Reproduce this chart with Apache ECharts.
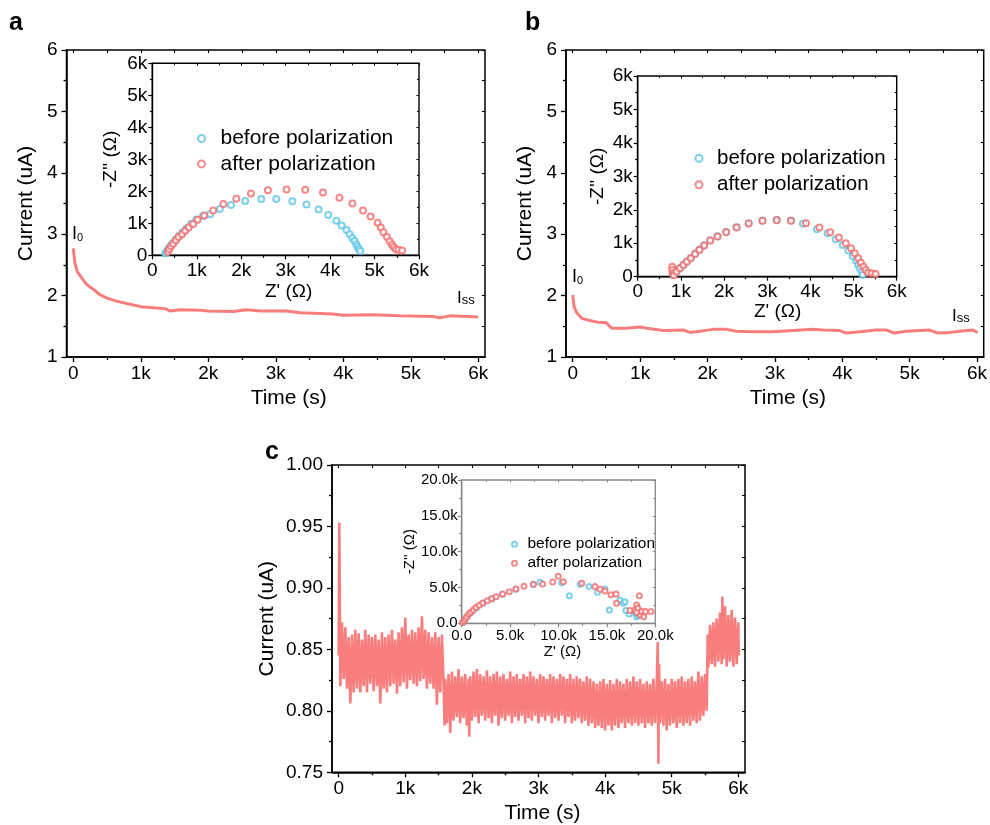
<!DOCTYPE html>
<html><head><meta charset="utf-8">
<script src="https://cdn.jsdelivr.net/npm/echarts@6/dist/echarts.min.js"></script>
<style>html,body{margin:0;padding:0;background:#fff}#c{width:990px;height:825px}</style>
</head><body><div id="c"></div>
<script>
const FONT = '"Liberation Sans", Arial, Helvetica, sans-serif';
const RED_LINE = '#F87E7E';
const BLUE = '#5BC4E6';
const RED = '#F26B6B';

// ---------- Panel a : current vs time ----------
const aTime = [0,25,60,125,200,300,400,500,640,790,1000,1235,1380,1430,1580,1880,2000,2370,2570,2770,3160,3360,3850,4000,4440,4840,5330,5430,5580,6000];
const aCurrent = [2.77,2.53,2.39,2.29,2.18,2.10,2.01,1.96,1.91,1.87,1.82,1.80,1.78,1.75,1.77,1.76,1.75,1.74,1.77,1.75,1.75,1.72,1.70,1.68,1.69,1.67,1.66,1.64,1.67,1.65];

// ---------- Panel b : current vs time ----------
const bTime = [0,20,60,133,232,405,494,578,800,1000,1096,1343,1640,1738,1886,2084,2281,2430,2677,2973,3269,3565,3714,3960,4059,4257,4504,4652,4775,4948,5294,5417,5590,5738,5936,6010];
const bCurrent = [2.01,1.82,1.72,1.63,1.60,1.56,1.56,1.47,1.47,1.49,1.47,1.43,1.44,1.40,1.42,1.45,1.45,1.42,1.41,1.41,1.43,1.45,1.44,1.43,1.39,1.41,1.44,1.44,1.39,1.42,1.44,1.39,1.40,1.42,1.44,1.40];

// ---------- Panel c : current vs time [t (s), I (uA)] ----------
const cTimeCurrent = [
[0,0.845],[10,0.953],[25,0.820],[50,0.872],[75,0.826],[100,0.868],[125,0.818],[150,0.860],[175,0.806],[200,0.862],[225,0.815],[250,0.866],[275,0.818],[300,0.863],[325,0.815],[350,0.858],[375,0.820],[400,0.866],[425,0.815],[450,0.862],[475,0.822],[500,0.860],[525,0.816],[550,0.862],[575,0.820],[600,0.858],[625,0.806],[650,0.864],[675,0.818],[700,0.860],[725,0.815],[750,0.862],[775,0.820],[800,0.866],[825,0.822],[850,0.858],[875,0.814],[900,0.864],[925,0.820],[950,0.868],[975,0.823],[1000,0.876],[1025,0.818],[1050,0.862],[1075,0.825],[1100,0.866],[1125,0.822],[1150,0.864],[1175,0.820],[1200,0.868],[1225,0.824],[1250,0.877],[1275,0.826],[1300,0.866],[1325,0.818],[1350,0.864],[1375,0.822],[1400,0.860],[1425,0.818],[1450,0.864],[1475,0.805],[1500,0.860],[1525,0.815],[1550,0.862],[1575,0.822],
[1590,0.788],[1600,0.826],[1625,0.790],[1650,0.830],[1675,0.782],[1700,0.832],[1725,0.792],[1750,0.828],[1775,0.795],[1800,0.834],[1825,0.790],[1850,0.828],[1875,0.794],[1900,0.830],[1925,0.788],[1950,0.826],[1960,0.779],[1975,0.828],[2000,0.792],[2025,0.832],[2050,0.795],[2075,0.834],[2100,0.790],[2125,0.830],[2150,0.796],[2175,0.828],[2200,0.792],[2225,0.833],[2250,0.794],[2275,0.828],[2300,0.790],[2325,0.830],[2350,0.796],[2375,0.832],[2400,0.788],[2425,0.828],[2450,0.794],[2475,0.830],[2500,0.792],[2525,0.826],[2550,0.796],[2575,0.832],[2600,0.790],[2625,0.828],[2650,0.795],[2675,0.830],[2700,0.792],[2725,0.826],[2750,0.796],[2775,0.830],[2800,0.790],[2825,0.828],[2850,0.794],[2875,0.832],[2900,0.792],[2925,0.828],[2950,0.796],[2975,0.826],[3000,0.790],[3025,0.830],[3050,0.795],[3075,0.828],[3100,0.792],[3125,0.826],[3150,0.796],[3175,0.830],[3200,0.790],[3225,0.828],[3250,0.794],[3275,0.826],[3300,0.792],[3325,0.830],[3350,0.796],[3375,0.828],[3400,0.790],[3425,0.826],[3450,0.795],[3475,0.830],[3500,0.790],[3525,0.826],[3550,0.792],[3575,0.828],[3600,0.794],[3625,0.826],[3650,0.790],[3675,0.824],[3700,0.792],[3725,0.828],[3750,0.788],[3775,0.826],[3800,0.790],[3825,0.824],[3850,0.786],[3875,0.822],[3900,0.788],[3925,0.824],[3950,0.786],[3975,0.826],[4000,0.784],[4025,0.822],[4050,0.788],[4075,0.825],[4100,0.784],[4125,0.822],[4150,0.788],[4175,0.826],[4200,0.786],[4225,0.824],[4250,0.790],[4275,0.822],[4300,0.786],[4325,0.826],[4350,0.790],[4375,0.824],[4400,0.788],[4425,0.828],[4450,0.790],[4475,0.824],[4500,0.788],[4525,0.826],[4550,0.790],[4575,0.822],[4600,0.786],[4625,0.824],[4650,0.790],[4675,0.822],[4700,0.788],[4725,0.826],[4750,0.790],[4775,0.822],[4790,0.856],[4800,0.757],[4810,0.838],[4825,0.790],[4850,0.824],[4875,0.788],[4900,0.826],[4925,0.784],[4950,0.822],[4975,0.788],[5000,0.826],[5025,0.790],[5050,0.824],[5075,0.786],[5100,0.826],[5125,0.790],[5150,0.828],[5175,0.788],[5200,0.824],[5225,0.790],[5250,0.826],[5275,0.788],[5300,0.828],[5325,0.792],[5350,0.824],[5375,0.790],[5400,0.832],[5425,0.792],[5450,0.828],[5475,0.796],[5500,0.830],[5525,0.800],
[5540,0.862],[5550,0.835],[5575,0.870],[5600,0.838],[5625,0.872],[5650,0.836],[5675,0.875],[5700,0.840],[5725,0.880],[5750,0.838],[5760,0.893],[5775,0.842],[5800,0.885],[5825,0.836],[5850,0.878],[5875,0.840],[5900,0.882],[5925,0.836],[5950,0.876],[5975,0.838],[6000,0.872],[6005,0.845]
];

// ---------- Insets : Nyquist [Z' (ohm), -Z'' (ohm)] ----------
const aBefore = [[290,60],[320,110],[350,170],[380,220],[410,280],[440,330],[470,390],[530,490],[600,600],[680,710],[770,840],[870,980],[990,1120],[1140,1230],[1300,1280],[1520,1450],[1770,1570],[2090,1700],[2450,1760],[2790,1760],[3150,1690],[3470,1590],[3740,1430],[3960,1260],[4140,1080],[4260,930],[4370,790],[4440,660],[4500,540],[4550,450],[4590,340],[4620,260],[4650,190],[4680,130]];
const aAfter = [[350,100],[380,190],[420,280],[470,360],[530,470],[590,570],[670,660],[740,770],[820,870],[920,980],[1020,1110],[1170,1240],[1370,1400],[1600,1600],[1890,1770],[2220,1930],[2600,2030],[3020,2060],[3440,2050],[3840,1960],[4210,1800],[4500,1620],[4740,1400],[4910,1210],[5070,1020],[5140,870],[5200,720],[5280,570],[5340,440],[5390,340],[5430,260],[5480,190],[5540,170],[5620,150]];

const bBefore = [[810,100],[830,50],[850,120],[900,180],[980,260],[1060,360],[1140,460],[1230,560],[1330,690],[1430,810],[1540,940],[1680,1090],[1850,1210],[2050,1340],[2290,1480],[2570,1600],[2890,1680],[3220,1700],[3550,1680],[3830,1580],[4150,1420],[4400,1300],[4590,1120],[4750,950],[4880,780],[4980,620],[5060,480],[5110,350],[5150,250],[5190,150],[5210,50]];
const bAfter = [[800,300],[800,200],[820,100],[840,40],[900,150],[980,250],[1060,350],[1140,450],[1230,550],[1330,680],[1430,800],[1540,930],[1680,1080],[1850,1200],[2050,1330],[2290,1470],[2570,1590],[2890,1670],[3220,1690],[3550,1670],[3900,1600],[4210,1470],[4460,1330],[4660,1170],[4820,1000],[4940,850],[5030,700],[5110,550],[5170,420],[5230,300],[5280,200],[5340,120],[5420,100],[5510,80]];

const cBefore = [[100,80],[300,450],[600,1000],[1000,1550],[1500,2150],[2200,2800],[3100,3400],[4200,4050],[5600,4750],[7400,5400],[8090,5720],[10330,5670],[11120,3860],[12220,5440],[13150,5120],[14040,4330],[14800,4790],[15250,1860],[16350,3260],[16700,2790],[16870,3020],[16970,1770],[17300,1300],[17900,1490],[18070,930],[18250,1070]];
const cAfter = [[100,100],[240,370],[380,650],[520,930],[720,1260],[930,1530],[1200,1860],[1480,2190],[1820,2510],[2170,2840],[2650,3160],[3100,3440],[3550,3720],[4230,4090],[4920,4420],[5600,4790],[6440,5160],[7400,5440],[8360,5490],[9400,5770],[9980,6560],[10500,5810],[12400,5580],[13770,5120],[14300,4740],[14800,4510],[15420,4000],[15940,4090],[16000,2790],[17380,1770],[17900,1860],[18070,2560],[18350,3860],[18200,2090],[18420,1160],[18600,1630],[18800,930],[18970,1630],[19550,1630],[18070,1490]];

// ---------- tick values ----------
const timeMajorTicks = [0,1000,2000,3000,4000,5000,6000];
const timeMinorTicks = [500,1500,2500,3500,4500,5500];
const timeAllTicks = [0,500,1000,1500,2000,2500,3000,3500,4000,4500,5000,5500,6000];
const legendNames = ['before polarization','after polarization'];

const kLabel = v => v === 0 ? '0' : (v / 1000) + 'k';
const kLabel1 = v => v === 0 ? '0.0' : (v / 1000).toFixed(1) + 'k';

const xAxes = [], yAxes = [];
const BLACK = '#000';
function lineSt(c, w){ return {color:c, width:w}; }

function mainX(grid, shift, gap){
  xAxes.push({type:'value', gridIndex:grid, min:-100, max:6100, position:'bottom',
    axisLine:{show:true, onZero:false, lineStyle:lineSt(BLACK,1.5)},
    axisTick:{show:true, length:5, customValues:timeMajorTicks, lineStyle:lineSt(BLACK,1.3)},
    axisLabel:{show:true, customValues:timeMajorTicks, formatter:kLabel, fontSize:19, color:BLACK, fontFamily:FONT, margin:7},
    splitLine:{show:false},
    name:'Time (s)', nameLocation:'middle', nameGap:gap,
    nameTextStyle:{fontSize:21, color:BLACK, fontFamily:FONT, padding:[0,0,0,shift*2]}});
  const idx = xAxes.length - 1;
  xAxes.push({type:'value', gridIndex:grid, min:-100, max:6100, position:'bottom',
    axisLine:{show:false, onZero:false},
    axisTick:{show:true, length:3, customValues:timeMinorTicks, lineStyle:lineSt(BLACK,1.3)},
    axisLabel:{show:false}, splitLine:{show:false}});
  xAxes.push({type:'value', gridIndex:grid, min:-100, max:6100, position:'top',
    axisLine:{show:false, onZero:false},
    axisTick:{show:true, inside:true, length:3, customValues:timeAllTicks, lineStyle:lineSt(BLACK,1.1)},
    axisLabel:{show:false}, splitLine:{show:false}});
  return idx;
}
function mainY(grid, min, max, interval, fmt, gap){
  yAxes.push({type:'value', gridIndex:grid, min:min, max:max, interval:interval, position:'left',
    axisLine:{show:true, onZero:false, lineStyle:lineSt(BLACK,1.5)},
    axisTick:{show:true, length:5, lineStyle:lineSt(BLACK,1.3)},
    minorTick:{show:true, splitNumber:2, length:3, lineStyle:lineSt(BLACK,1.3)},
    axisLabel:{formatter:fmt, fontSize:19, color:BLACK, fontFamily:FONT, margin:9},
    splitLine:{show:false}, minorSplitLine:{show:false},
    name:'Current (uA)', nameLocation:'middle', nameGap:gap,
    nameTextStyle:{fontSize:21, color:BLACK, fontFamily:FONT}});
  const idx = yAxes.length - 1;
  yAxes.push({type:'value', gridIndex:grid, min:min, max:max, interval:interval, position:'right',
    axisLine:{show:false, onZero:false},
    axisTick:{show:true, inside:true, length:3, lineStyle:lineSt(BLACK,1.1)},
    minorTick:{show:true, splitNumber:2, length:3, lineStyle:lineSt(BLACK,1.1)},
    axisLabel:{show:false}, splitLine:{show:false}, minorSplitLine:{show:false}});
  return idx;
}
function insetAxis(list, dim, grid, o){
  list.push({type:'value', gridIndex:grid, min:0, max:o.max, interval:o.interval, position: dim==='x'?'bottom':'left',
    axisLine:{show:true, onZero:false, lineStyle:lineSt(o.lineColor,1.4)},
    axisTick:{show:true, length:4, lineStyle:lineSt(o.lineColor,1.2)},
    minorTick:{show:true, splitNumber:2, length:2.5, lineStyle:lineSt(o.lineColor,1.2)},
    axisLabel:{formatter:o.fmt, fontSize:o.fs, color:BLACK, fontFamily:FONT, margin:o.margin},
    splitLine:{show:false}, minorSplitLine:{show:false},
    name:o.name, nameLocation:'middle', nameGap:o.gap,
    nameTextStyle:{fontSize:o.nfs, color:BLACK, fontFamily:FONT, padding:o.pad || 0}});
  const idx = list.length - 1;
  list.push({type:'value', gridIndex:grid, min:0, max:o.max, interval:o.interval, position: dim==='x'?'top':'right',
    axisLine:{show:false, onZero:false},
    axisTick:{show:true, inside:true, length:2.5, lineStyle:lineSt(o.lineColor,1.0)},
    minorTick:{show:true, splitNumber:2, length:2, lineStyle:lineSt(o.lineColor,1.0)},
    axisLabel:{show:false}, splitLine:{show:false}, minorSplitLine:{show:false}});
  return idx;
}

const grids = [
  {left:66.5, top:50, width:418.5, height:307, show:true, borderColor:BLACK, borderWidth:1.5},
  {left:152.3, top:63.3, width:266.7, height:192, show:true, borderColor:BLACK, borderWidth:1.4, backgroundColor:'#fff'},
  {left:566, top:50, width:418.5, height:307, show:true, borderColor:BLACK, borderWidth:1.5},
  {left:637.7, top:76, width:259, height:200.7, show:true, borderColor:BLACK, borderWidth:1.4, backgroundColor:'#fff'},
  {left:332, top:465, width:413, height:307.3, show:true, borderColor:BLACK, borderWidth:1.5},
  {left:461.7, top:480, width:193.6, height:143.3, show:true, borderColor:'#888', borderWidth:1.3, backgroundColor:'#fff'}
];

// panel a
const xa = mainX(0, 13, 31), ya = mainY(0, 1, 6, 1, v => String(v), 30);
const xia = insetAxis(xAxes,'x',1,{max:6000, interval:1000, fmt:kLabel, fs:19, margin:6, name:"Z' (Ω)", gap:27, nfs:19, pad:[0,0,0,6], lineColor:BLACK});
const yia = insetAxis(yAxes,'y',1,{max:6000, interval:1000, fmt:kLabel, fs:19, margin:5, name:"-Z'' (Ω)", gap:32, nfs:19, lineColor:BLACK});
// panel b
const xb = mainX(2, 13, 31), yb = mainY(2, 1, 6, 1, v => String(v), 30);
const xib = insetAxis(xAxes,'x',3,{max:6000, interval:1000, fmt:kLabel, fs:19, margin:6, name:"Z' (Ω)", gap:25, nfs:19, pad:[0,0,0,21], lineColor:BLACK});
const yib = insetAxis(yAxes,'y',3,{max:6000, interval:1000, fmt:kLabel, fs:19, margin:5, name:"-Z'' (Ω)", gap:30, nfs:19, lineColor:BLACK});
// panel c
const xc = mainX(4, 4, 30), yc = mainY(4, 0.75, 1.0, 0.05, v => v.toFixed(2), 54);
const xic = insetAxis(xAxes,'x',5,{max:20000, interval:5000, fmt:kLabel1, fs:15, margin:5, name:"Z' (Ω)", gap:19, nfs:15, pad:[0,0,0,8], lineColor:'#888'});
const yic = insetAxis(yAxes,'y',5,{max:20000, interval:5000, fmt:kLabel1, fs:15, margin:4, name:"-Z'' (Ω)", gap:40, nfs:15, lineColor:'#888'});

const pair = (t, v) => t.map((x, i) => [x, v[i]]);
function curve(xi, yi, data, w){
  return {type:'line', xAxisIndex:xi, yAxisIndex:yi, data:data, showSymbol:false, symbol:'none',
    lineStyle:{color:RED_LINE, width:w}, itemStyle:{color:RED_LINE}, silent:true, z:3};
}
function scat(name, color, xi, yi, data, size){
  return {type:'scatter', name:name, xAxisIndex:xi, yAxisIndex:yi, data:data, symbol:'emptyCircle', symbolSize:size,
    itemStyle:{color:color, borderWidth:1}, silent:true, z:4};
}
function legend(left, top, fs, lh, gap, iw, ih){
  return {data:legendNames, orient:'vertical', left:left, top:top, padding:0, itemWidth:iw, itemHeight:ih, itemGap:gap,
    selectedMode:false, textStyle:{fontSize:fs, lineHeight:lh, color:BLACK, fontFamily:FONT}};
}
function label(text, left, top, rich){
  return {text:text, left:left, top:top, padding:0, textStyle:{color:BLACK, fontFamily:FONT, fontWeight:'normal', rich:rich}};
}
const iRich = {i:{fontSize:18, lineHeight:18, fontWeight:'normal', color:BLACK, fontFamily:FONT}, s:{fontSize:11, lineHeight:11, fontWeight:'normal', verticalAlign:'bottom', color:BLACK, fontFamily:FONT}};
const issRich = {i:{fontSize:17, lineHeight:17, fontWeight:'normal', color:BLACK, fontFamily:FONT}, s:{fontSize:13, lineHeight:13, fontWeight:'normal', verticalAlign:'bottom', color:BLACK, fontFamily:FONT}};

const option = {
  animation:false,
  backgroundColor:'#fff',
  textStyle:{fontFamily:FONT},
  title:[
    {text:'a', left:9, top:11, padding:0, textStyle:{fontSize:25, fontWeight:'bold', color:BLACK, fontFamily:FONT}},
    {text:'b', left:525, top:11, padding:0, textStyle:{fontSize:25, fontWeight:'bold', color:BLACK, fontFamily:FONT}},
    {text:'c', left:265, top:440, padding:0, textStyle:{fontSize:25, fontWeight:'bold', color:BLACK, fontFamily:FONT}},
    label('{i|I}{s|0}', 72, 225, iRich),
    label('{i|I}{s|ss}', 457, 290, issRich),
    label('{i|I}{s|0}', 572, 268, iRich),
    label('{i|I}{s|ss}', 952, 308, issRich)
  ],
  legend:[
    legend(197, 128, 21, 21, 4.4, 28, 7),
    legend(694.5, 147.7, 20.5, 21, 5.6, 26, 7),
    legend(511, 536.2, 15.5, 16, 3, 16, 5)
  ],
  grid:grids,
  xAxis:xAxes,
  yAxis:yAxes,
  series:[
    curve(xa, ya, pair(aTime, aCurrent), 3),
    scat('before polarization', BLUE, xia, yia, aBefore, 6),
    scat('after polarization', RED, xia, yia, aAfter, 6),
    curve(xb, yb, pair(bTime, bCurrent), 3),
    scat('before polarization', BLUE, xib, yib, bBefore, 6),
    scat('after polarization', RED, xib, yib, bAfter, 6),
    curve(xc, yc, cTimeCurrent, 2.6),
    scat('before polarization', BLUE, xic, yic, cBefore, 5),
    scat('after polarization', RED, xic, yic, cAfter, 5)
  ]
};
const chart = echarts.init(document.getElementById('c'), null, {renderer:'canvas'});
chart.setOption(option);
</script></body></html>
